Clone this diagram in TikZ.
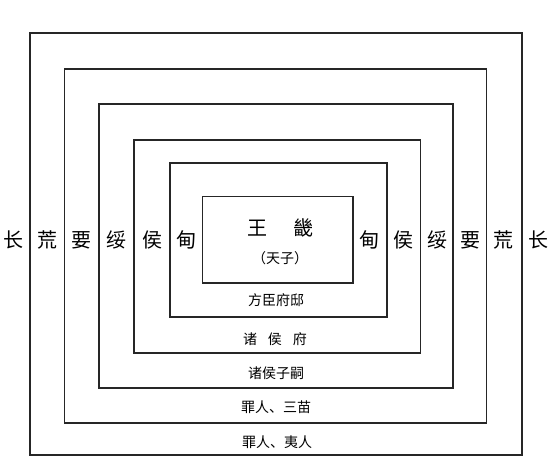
\documentclass[tikz,border=0pt]{standalone}
\usepackage{fontspec}
\setmainfont{Noto Sans CJK SC}
\usepackage{tikz}
\usetikzlibrary{positioning}
\tikzstyle{ring} = [draw=black!85,line width=1.3pt]
\tikzstyle{zone} = [inner sep=0pt,font=\fontsize{20}{20}\selectfont]
\tikzstyle{belt} = [inner sep=0pt,font=\fontsize{14}{14}\selectfont]

\begin{document}
\begin{tikzpicture}[x=1pt,y=-1pt]
	\useasboundingbox (0,0) rectangle (554,456);
	
	%Rings
	\draw[ring] (30,33) rectangle (522,455);
	\draw[ring] (64.5,69) rectangle (486.5,423);
	\draw[ring] (99,104) rectangle (453,388);
	\draw[ring] (134,140) rectangle (420.5,353);
	\draw[ring] (170,163) rectangle (387,317);
	\draw[ring] (202.5,196.5) rectangle (353,283);
	
	%Centre
	\node[zone] (wang) at (257,228) {王};
	\node[zone] (ji) at (303,228) {畿};
	\node[belt] (tianzi) at (280,258) {（天子）};
	
	%Left side
	\node[zone] (changL) at (13,240) {长};
	\node[zone] (huangL) at (47,240) {荒};
	\node[zone] (yaoL) at (81.5,240) {要};
	\node[zone] (suiL) at (116.5,240) {绥};
	\node[zone] (houL) at (152,240) {侯};
	\node[zone] (dianL) at (186,240) {甸};
	
	%Right side
	\node[zone] (dianR) at (369,240) {甸};
	\node[zone] (houR) at (403,240) {侯};
	\node[zone] (suiR) at (437,240) {绥};
	\node[zone] (yaoR) at (470,240) {要};
	\node[zone] (huangR) at (503.5,240) {荒};
	\node[zone] (changR) at (538,240) {长};
	
	%Bottom belts
	\node[belt] (fangchen) at (276,300) {方臣府邸};
	\node[belt] (zhuhoufu) at (275,339) {诸\hspace{11pt}侯\hspace{11pt}府};
	\node[belt] (zisi) at (276,373) {诸侯子嗣};
	\node[belt] (sanmiao) at (276,407) {罪人、三苗};
	\node[belt] (yiren) at (277,442) {罪人、夷人};
\end{tikzpicture}
\end{document}
